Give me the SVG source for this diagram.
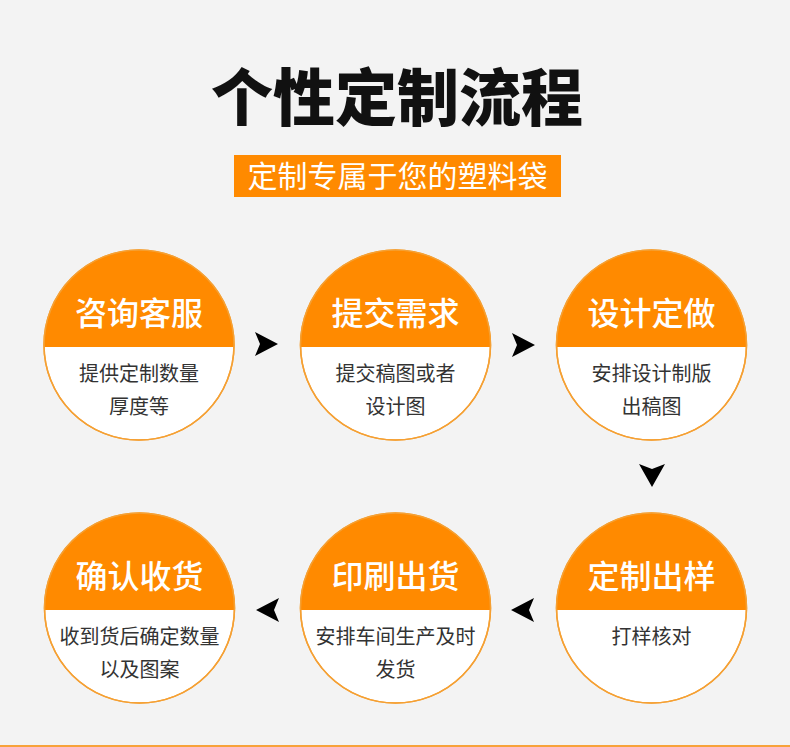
<svg xmlns="http://www.w3.org/2000/svg" width="790" height="747" viewBox="0 0 790 747">
<defs>
<style>
.bg{fill:#f3f3f3}
.ring{fill:#ffffff;stroke:#f5a033;stroke-width:1.5}
.top{fill:#ff8a00}
.head{font-family:"Noto Sans CJK SC","Noto Sans",sans-serif;font-size:32px;font-weight:500;fill:#ffffff;text-anchor:middle}
.body{font-family:"Noto Sans CJK SC","Noto Sans",sans-serif;font-size:20px;fill:#333333;text-anchor:middle}
.arrow{fill:#000000}
</style>
<clipPath id="c1"><circle cx="139" cy="345" r="95"/></clipPath>
<clipPath id="c2"><circle cx="395.5" cy="345" r="95"/></clipPath>
<clipPath id="c3"><circle cx="651.5" cy="345" r="95"/></clipPath>
<clipPath id="c4"><circle cx="139.5" cy="608" r="95"/></clipPath>
<clipPath id="c5"><circle cx="395.5" cy="608" r="95"/></clipPath>
<clipPath id="c6"><circle cx="651.5" cy="608" r="95"/></clipPath>
</defs>
<rect class="bg" x="0" y="0" width="790" height="747"/>
<text x="397" y="121" font-family="'Noto Sans CJK SC',sans-serif" font-size="62" font-weight="900" fill="#111111" text-anchor="middle">个性定制流程</text>
<g id="subtitle">
<rect x="234" y="155" width="327" height="42" fill="#ff8a00"/>
<text x="397.5" y="187" font-family="'Noto Sans CJK SC',sans-serif" font-size="30" fill="#ffffff" text-anchor="middle">定制专属于您的塑料袋</text>
</g>
<g id="n1">
<circle class="ring" cx="139" cy="345" r="95"/>
<rect class="top" x="40" y="245" width="200" height="102" clip-path="url(#c1)"/>
<circle cx="139" cy="345" r="95" fill="none" stroke="#f5a033" stroke-width="1.5"/>
<text class="head" x="139" y="325">咨询客服</text>
<text class="body" x="139" y="381">提供定制数量</text>
<text class="body" x="139" y="414">厚度等</text>
</g>
<g id="n2">
<circle class="ring" cx="395.5" cy="345" r="95"/>
<rect class="top" x="296" y="245" width="200" height="102" clip-path="url(#c2)"/>
<circle cx="395.5" cy="345" r="95" fill="none" stroke="#f5a033" stroke-width="1.5"/>
<text class="head" x="395.5" y="325">提交需求</text>
<text class="body" x="395.5" y="381">提交稿图或者</text>
<text class="body" x="395.5" y="414">设计图</text>
</g>
<g id="n3">
<circle class="ring" cx="651.5" cy="345" r="95"/>
<rect class="top" x="552" y="245" width="200" height="102" clip-path="url(#c3)"/>
<circle cx="651.5" cy="345" r="95" fill="none" stroke="#f5a033" stroke-width="1.5"/>
<text class="head" x="651.5" y="325">设计定做</text>
<text class="body" x="651.5" y="381">安排设计制版</text>
<text class="body" x="651.5" y="414">出稿图</text>
</g>
<g id="n4">
<circle class="ring" cx="139.5" cy="608" r="95"/>
<rect class="top" x="40" y="508" width="200" height="102" clip-path="url(#c4)"/>
<circle cx="139.5" cy="608" r="95" fill="none" stroke="#f5a033" stroke-width="1.5"/>
<text class="head" x="139.5" y="588">确认收货</text>
<text class="body" x="139.5" y="644">收到货后确定数量</text>
<text class="body" x="139.5" y="677">以及图案</text>
</g>
<g id="n5">
<circle class="ring" cx="395.5" cy="608" r="95"/>
<rect class="top" x="296" y="508" width="200" height="102" clip-path="url(#c5)"/>
<circle cx="395.5" cy="608" r="95" fill="none" stroke="#f5a033" stroke-width="1.5"/>
<text class="head" x="395.5" y="588">印刷出货</text>
<text class="body" x="395.5" y="644">安排车间生产及时</text>
<text class="body" x="395.5" y="677">发货</text>
</g>
<g id="n6">
<circle class="ring" cx="651.5" cy="608" r="95"/>
<rect class="top" x="552" y="508" width="200" height="102" clip-path="url(#c6)"/>
<circle cx="651.5" cy="608" r="95" fill="none" stroke="#f5a033" stroke-width="1.5"/>
<text class="head" x="651.5" y="588">定制出样</text>
<text class="body" x="651.5" y="644">打样核对</text>
</g>
<g id="connectors">
<path class="arrow" d="M255,332 L278,344 L255,356 L260,344 Z"/>
<path class="arrow" d="M512,333 L535,345 L512,357 L517,345 Z"/>
<path class="arrow" d="M639,464 L652,487 L665,464 L652,469 Z"/>
<path class="arrow" d="M534,598 L511,610 L534,622 L529,610 Z"/>
<path class="arrow" d="M279,598 L256,610 L279,622 L274,610 Z"/>
</g>
<rect x="0" y="745" width="790" height="2" fill="#f7a23a"/>
</svg>
